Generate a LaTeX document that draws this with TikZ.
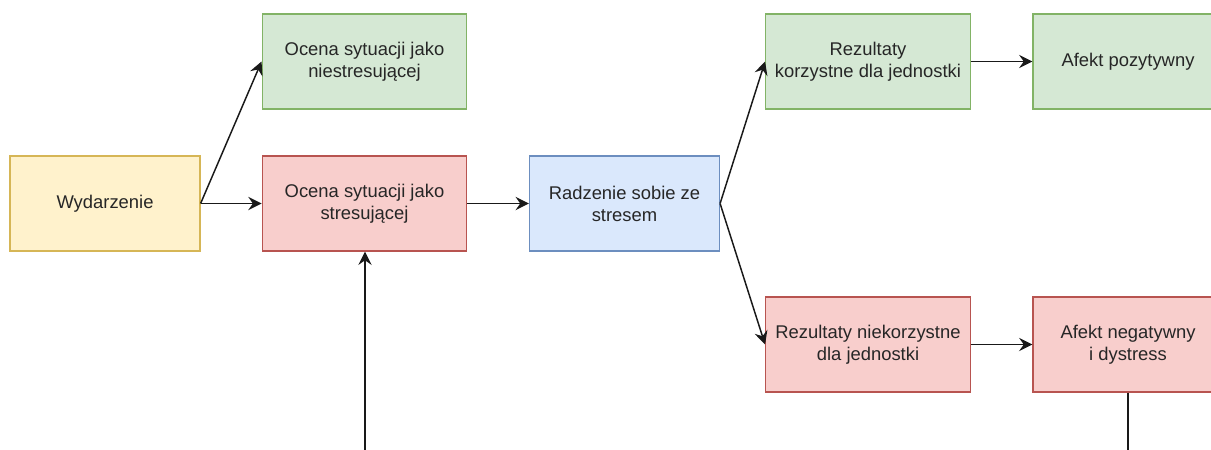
\documentclass[tikz,border=0pt]{standalone}
\usepackage{fontspec}
\setmainfont{Liberation Sans}
\usetikzlibrary{arrows.meta}
\definecolor{greenfill}{HTML}{D5E8D4}\definecolor{greenline}{HTML}{82B366}
\definecolor{redfill}{HTML}{F8CECC}\definecolor{redline}{HTML}{B85450}
\definecolor{yellowfill}{HTML}{FFF2CC}\definecolor{yellowline}{HTML}{D6B656}
\definecolor{bluefill}{HTML}{DAE8FC}\definecolor{blueline}{HTML}{6C8EBF}
\begin{document}
\begin{tikzpicture}[x=0.75pt,y=-0.75pt,
  box/.style={rectangle, line width=0.9pt, minimum height=71.25pt, align=center,
    inner sep=2pt, font=\fontsize{13.8}{16.5}\selectfont, text=black!85},
  wide/.style={box, minimum width=153.5pt},
  narrow/.style={box, minimum width=142.5pt},
  good/.style={fill=greenfill, draw=greenline},
  bad/.style={fill=redfill, draw=redline},
  start/.style={fill=yellowfill, draw=yellowline},
  cope/.style={fill=bluefill, draw=blueline},
  link/.style={line width=1.1pt, black!90, -{Stealth[length=10pt,width=10pt,inset=3.5pt]}},
  plain/.style={line width=1.1pt, black!90}]
\useasboundingbox (0,0) rectangle (1211,450);
\clip (0,0) rectangle (1211,450);
\fill[white] (0,0) rectangle (1211,450);

\node[narrow, start] (wyd) at (105,203.5) {Wydarzenie};
\node[wide, good] (ocn) at (364.5,61.5) {Ocena sytuacji jako\\niestresującej};
\node[wide, bad] (ocs) at (364.5,203.5) {Ocena sytuacji jako\\stresującej};
\node[narrow, cope] (rad) at (624.5,203.5) {Radzenie sobie ze\\stresem};
\node[wide, good] (rzk) at (868,61.5) {Rezultaty\\korzystne dla jednostki};
\node[narrow, good] (afp) at (1128,61.5) {Afekt pozytywny};
\node[wide, bad] (rzn) at (868,344.5) {Rezultaty niekorzystne\\dla jednostki};
\node[narrow, bad] (afn) at (1128,344.5) {Afekt negatywny\\i dystress};

\coordinate (feedin) at (365,452);
\coordinate (feedout) at (1128,452);

\draw[link] (wyd.east) -- (ocn.west);
\draw[link] (wyd.east) -- (ocs.west);
\draw[link] (ocs.east) -- (rad.west);
\draw[link] (rad.east) -- (rzk.west);
\draw[link] (rad.east) -- (rzn.west);
\draw[link] (rzk.east) -- (afp.west);
\draw[link] (rzn.east) -- (afn.west);
\draw[link] (feedin) -- (ocs.south -| feedin);
\draw[plain] (afn.south) -- (feedout);
\end{tikzpicture}
\end{document}
